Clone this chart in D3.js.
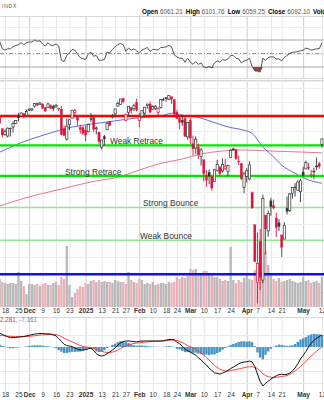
<!DOCTYPE html>
<html><head><meta charset="utf-8">
<script src="https://cdn.jsdelivr.net/npm/d3@7"></script>
<style>
html,body{margin:0;padding:0;background:#fff;}
svg{display:block;font-family:"Liberation Sans",Arial,sans-serif;}
</style></head><body>
<svg id="chart" width="324" height="400"></svg>
<script>
// Trading days shown on the chart
const dates = [
 "2024-11-14","2024-11-15","2024-11-18","2024-11-19","2024-11-20","2024-11-21","2024-11-22","2024-11-25","2024-11-26","2024-11-27","2024-11-29",
 "2024-12-02","2024-12-03","2024-12-04","2024-12-05","2024-12-06","2024-12-09","2024-12-10","2024-12-11","2024-12-12","2024-12-13","2024-12-16","2024-12-17","2024-12-18","2024-12-19","2024-12-20","2024-12-23","2024-12-24","2024-12-26","2024-12-27","2024-12-30","2024-12-31",
 "2025-01-02","2025-01-03","2025-01-06","2025-01-07","2025-01-08","2025-01-10","2025-01-13","2025-01-14","2025-01-15","2025-01-16","2025-01-17","2025-01-21","2025-01-22","2025-01-23","2025-01-24","2025-01-27","2025-01-28","2025-01-29","2025-01-30","2025-01-31",
 "2025-02-03","2025-02-04","2025-02-05","2025-02-06","2025-02-07","2025-02-10","2025-02-11","2025-02-12","2025-02-13","2025-02-14","2025-02-18","2025-02-19","2025-02-20","2025-02-21","2025-02-24","2025-02-25","2025-02-26","2025-02-27","2025-02-28",
 "2025-03-03","2025-03-04","2025-03-05","2025-03-06","2025-03-07","2025-03-10","2025-03-11","2025-03-12","2025-03-13","2025-03-14","2025-03-17","2025-03-18","2025-03-19","2025-03-20","2025-03-21","2025-03-24","2025-03-25","2025-03-26","2025-03-27","2025-03-28","2025-03-31",
 "2025-04-01","2025-04-02","2025-04-03","2025-04-04","2025-04-07","2025-04-08","2025-04-09","2025-04-10","2025-04-11","2025-04-14","2025-04-15","2025-04-16","2025-04-17","2025-04-21","2025-04-22","2025-04-23","2025-04-24","2025-04-25","2025-04-28","2025-04-29","2025-04-30",
 "2025-05-01","2025-05-02","2025-05-05","2025-05-06","2025-05-07","2025-05-08","2025-05-09","2025-05-12"
];

const open = [5989,5912,5874,5863,5917,5924,5948,5993,6000,6015,6004,
 6040,6042,6069,6089,6081,6083,6057,6060,6074,6068,6063,6053,6047,5912,5842,5940,5985,6024,6006,5920,5920,
 5903,5892,5982,5993,5911,5890,5788,5859,5905,5962,5995,6015,6069,6079,6121,5969,6026,6057,6051,6096,
 5970,5998,6020,6072,6083,6047,6050,6025,6060,6115,6121,6117,6135,6115,6027,5982,5971,5981,5857,
 5969,5811,5782,5789,5726,5705,5604,5624,5594,5563,5635,5655,5632,5646,5630,5719,5775,5772,5696,5679,5527,
 5597,5580,5492,5293,4953,5193,4967,5353,5256,5441,5412,5335,5305,5232,5207,5395,5381,5489,5529,5508,5499,
 5625,5645,5655,5605,5626,5663,5679,5807];
const high = [5993,5915,5909,5920,5920,5963,5973,6020,6025,6021,6044,
 6053,6052,6086,6092,6099,6089,6065,6092,6080,6078,6085,6057,6070,5935,5982,5979,6041,6049,6006,5941,5930,
 5935,5949,6021,6000,5928,5890,5838,5871,5960,5965,6014,6051,6100,6119,6128,6017,6070,6062,6086,6121,
 6022,6042,6062,6084,6101,6074,6076,6063,6116,6127,6129,6147,6134,6115,6043,5993,6009,5993,5959,
 5986,5866,5861,5813,5783,5705,5636,5642,5598,5645,5704,5665,5715,5711,5672,5775,5786,5776,5732,5685,5627,
 5650,5695,5500,5293,5246,5267,5481,5353,5381,5460,5450,5368,5328,5232,5309,5469,5489,5528,5553,5572,5581,
 5659,5700,5683,5640,5654,5720,5691,5845];
const low = [5942,5854,5866,5853,5860,5886,5944,5963,5992,5984,6004,
 6035,6033,6058,6071,6080,6048,6029,6060,6050,6034,6059,6035,5867,5866,5833,5903,5983,6007,5932,5879,5870,
 5829,5888,5960,5891,5874,5809,5773,5802,5905,5930,5983,5990,6065,6076,6088,5962,5994,6015,6035,6031,
 5923,5990,6007,6050,6019,6045,6043,6003,6052,6107,6100,6111,6084,6009,5977,5908,5933,5858,5837,
 5810,5732,5742,5711,5667,5565,5529,5547,5505,5563,5628,5603,5622,5640,5599,5719,5764,5703,5670,5572,5489,
 5558,5572,5390,5069,4835,4910,4949,5115,5221,5349,5387,5220,5255,5101,5207,5356,5371,5455,5468,5506,5433,
 5597,5644,5639,5587,5578,5637,5647,5786];
const close = [5949,5870,5893,5917,5917,5949,5969,5987,6021,5998,6032,
 6047,6050,6086,6075,6090,6053,6034,6084,6051,6051,6074,6050,5872,5867,5930,5974,6040,6037,5971,5907,5882,
 5869,5942,5975,5909,5918,5827,5836,5843,5950,5937,5997,6049,6086,6119,6101,6012,6068,6039,6071,6040,
 5994,6037,6061,6083,6026,6066,6068,6051,6115,6115,6129,6144,6117,6013,5983,5955,5956,5861,5955,
 5850,5778,5842,5739,5770,5615,5572,5599,5522,5639,5675,5615,5675,5663,5667,5768,5777,5712,5693,5581,5612,
 5633,5671,5397,5074,5062,4982,5457,5268,5363,5406,5397,5276,5283,5158,5288,5376,5485,5525,5529,5561,5569,
 5604,5687,5650,5607,5631,5664,5660,5844];

// Daily volume, millions of shares
const volume = [2240,2000,1920,1840,1920,1920,1840,2800,2080,1680,1040,
 1840,1840,1760,1840,1680,1840,1920,1760,1760,1920,2000,1760,2400,2240,4880,1760,800,1120,1440,1680,1600,
 1920,1840,2080,2160,2000,2160,2000,2080,2000,2000,1920,2160,2080,2000,2000,1840,2800,2160,2000,1920,
 2240,2160,1840,1920,1840,2000,1760,1840,1920,1920,1840,2000,1920,2000,2400,2240,2400,2320,2480,
 3040,2960,3040,2640,2720,2880,2880,2720,2560,2400,2400,2240,2080,2160,2080,4800,2160,1920,2160,2000,2320,
 2560,2240,2160,2960,3520,4000,3520,4400,3360,2640,2240,2080,2320,2000,2080,2160,2240,2080,2000,1920,2000,
 2400,2080,2160,1920,2000,2080,1920,2400];

// 14-day RSI
const rsi = [68,57,55,57,57,60,62,63,66,63,66,
 67,67,70,68,69,64,61,66,62,62,64,61,40,38,47,51,56,55,49,44,42,
 41,49,52,46,47,40,40,41,52,51,56,60,63,65,63,53,58,55,57,54,
 51,55,57,59,53,56,56,55,59,59,60,62,60,48,45,43,43,37,43,
 37,34,38,34,36,30,29,31,28.5,36,39,37,41,40,42,47,47,43,42,36,39,
 40,43,31,24,24,22.5,43,40,44,45,45,42,42,39,44,47,50,52,52,53,54,
 55,58,57,55,56,57,57,66];

// MACD(12,26,9): MACD line, signal line, histogram
const macd = [46,42,38,34,31,31,32,33,34,35,37,
 39,41,43,44,45,45,44,44,43,40,37,28,19,9,5,3,1,-3,-7,-10,-10,
 -9,-6,-4,-12,-22,-28,-30,-28,-22,-17,-10,-3,6,14,18,20,20,19,18,17,
 19,20,20,20,20,20,20,20,20,21,23,25,25,24,16,11,2,-7,-12,
 -17,-22,-27,-36,-43,-53,-60,-71,-78,-86,-88,-90,-87,-83,-78,-72,-67,-62,-56,-52,-50,
 -49,-47,-50,-65,-90,-115,-130,-121,-114,-107,-101,-96,-92,-91,-92,-91,-87,-80,-70,-56,-40,
 -28,-15,0,12,22,29,35,40];
const signal = [38,38,37,36,35.5,35,34.5,34.5,34.5,34.5,35,
 35.5,36.5,37.5,38.5,39.5,40.5,41,41.5,42,41.5,41,38.5,34.5,29.5,25,21,17,13,9,5,2,
 0,-1,-2,-4,-7,-11,-14,-17,-18,-18,-17,-14,-10,-5,0,4,7,10,12,13,
 14,15,16,17,18,18.5,19,19,19.5,20,21,22,23,23,22,19,15,10,5,
 1,-3,-8,-14,-20,-27,-35,-44,-53,-61,-68,-74,-78,-80,-80,-79,-77,-75,-73,-71,-69,
 -67,-66,-66,-68,-72,-80,-89,-95,-99,-101,-102,-101,-100,-98,-97,-95,-91,-86,-80,-73,-65,
 -57,-48,-39,-30,-22,-14,-7,0];
const hist = [8,4,1,-2,-4.5,-4,-2.5,-1.5,-0.5,0.5,2,
 3.5,4.5,5.5,5.5,5.5,4.5,3,2.5,1,-1.5,-4,-10.5,-15.5,-20.5,-20,-18,-16,-16,-16,-15,-12,
 -9,-5,-2,-8,-15,-17,-16,-11,-4,1,7,11,16,19,18,16,13,9,6,4,
 5,5,4,3,2,1.5,1,1,0.5,1,2,3,2,1,-6,-8,-13,-17,-17,
 -18,-19,-19,-22,-23,-26,-25,-27,-25,-25,-20,-16,-9,-3,2,7,10,13,17,19,19,
 18,19,16,3,-18,-35,-41,-26,-15,-6,1,5,8,7,5,4,4,6,10,17,25,
 29,33,39,42,44,43,42,40];

// Moving averages
const sma50Dates = ["2024-11-14","2024-11-26","2024-12-12","2024-12-20","2025-01-06","2025-01-16","2025-01-30","2025-02-13","2025-02-20","2025-02-26","2025-03-05","2025-03-13","2025-03-21","2025-03-31","2025-04-03","2025-04-09","2025-04-15","2025-04-21","2025-04-28","2025-05-05","2025-05-12"];
const sma50 = [5755,5818,5884,5916,5944,5961,5984,5999,6019,6005,5994,5961,5925,5902,5881,5790,5724,5670,5617,5574,5553];
const sma200Dates = ["2024-11-14","2024-11-27","2024-12-18","2025-01-06","2025-01-23","2025-02-03","2025-02-13","2025-02-26","2025-03-07","2025-03-19","2025-03-28","2025-04-09","2025-04-21","2025-04-30","2025-05-12"];
const sma200 = [5409,5457,5516,5561,5596,5638,5681,5710,5743,5763,5770,5765,5760,5756,5751];

// Horizontal levels
const levelValues = [6000,5800,5600,5400,5200,5000];
const levelNames = ["","Weak Retrace","Strong Retrace","Strong Bounce","Weak Bounce",""];

// Date axis
const tickDates = ["2024-11-18","2024-11-25","2024-12-02","2024-12-09","2024-12-16","2024-12-23","2025-01-02","2025-01-13","2025-01-21","2025-01-27","2025-02-03","2025-02-10","2025-02-18","2025-02-24","2025-03-03","2025-03-10","2025-03-17","2025-03-24","2025-04-01","2025-04-07","2025-04-14","2025-04-21","2025-05-01","2025-05-12"];
const tickLabels = ["18","25","Dec","9","16","23","2025","13","21","27","Feb","10","18","24","Mar","10","17","24","Apr","7","14","21","May","12"];

const svg = d3.select("#chart");
const W = 324;
const P = {rsiTop:16, rsiBot:78, mainTop:80, mainBot:307, macdTop:317, macdBot:392};

const x = d3.scalePoint().domain(dates).range([-0.37, 321.95]);
const yP = d3.scaleLog().domain([4815, 6254]).range([P.mainBot, P.mainTop]);
const yV = d3.scaleLinear().domain([0, 6000]).range([P.mainBot, P.mainBot - 75]);
const yR = d3.scaleLinear().domain([30, 70]).range([67, 40]);
const yM = d3.scaleLinear().domain([-100, 100]).range([377, 317]);
const isMonth = l => isNaN(+l) || l === "2025";

// clip paths
const defs = svg.append("defs");
[["cRsi",P.rsiTop,P.rsiBot],["cMain",P.mainTop,P.mainBot],["cMacd",P.macdTop,P.macdBot]].forEach(([id,t,b])=>{
  defs.append("clipPath").attr("id",id).append("rect").attr("x",0).attr("y",t).attr("width",W).attr("height",b-t);
});

// header
svg.append("text").attr("x",2).attr("y",7.5).attr("font-size",5.5).attr("fill","#666").attr("letter-spacing",0.4).text("INDX");
const hdr = svg.append("text").attr("x",142).attr("y",13.5).attr("font-size",6.3);
[["Open","6061.21"],["High","6101.76"],["Low","6059.25"],["Close","6092.10"],["Volume",""]].forEach(([k,v],i)=>{
  hdr.append("tspan").attr("font-weight","bold").attr("fill","#000").attr("dx", i? 3:0).text(k);
  if (v) hdr.append("tspan").attr("fill","#555").attr("dx",2).text(v);
});

// panel grids
function vgrid(top, bot){
  svg.append("g").selectAll("line").data(tickDates).join("line")
    .attr("x1",d=>x(d)+0.5).attr("x2",d=>x(d)+0.5).attr("y1",top).attr("y2",bot)
    .attr("stroke",(d,i)=>isMonth(tickLabels[i])?"#cfcfcf":"#e6e6e6").attr("stroke-width",1);
}
vgrid(P.rsiTop,P.rsiBot); vgrid(P.mainTop,P.mainBot); vgrid(P.macdTop,P.macdBot);

// RSI panel
const gR = svg.append("g");
gR.selectAll("line.h").data([90,50,10]).join("line").attr("x1",0).attr("x2",W)
  .attr("y1",d=>Math.round(yR(d))+0.5).attr("y2",d=>Math.round(yR(d))+0.5).attr("stroke","#ececec");
[P.rsiTop, P.rsiBot].forEach(y=>gR.append("line").attr("x1",0).attr("x2",W).attr("y1",y+0.5).attr("y2",y+0.5).attr("stroke","#d8d8d8"));
[70,30].forEach(v=>gR.append("line").attr("x1",0).attr("x2",W).attr("y1",yR(v)).attr("y2",yR(v)).attr("stroke","#a8a8a8").attr("stroke-width",1.2));
gR.append("line").attr("x1",0).attr("x2",W).attr("y1",yR(50)).attr("y2",yR(50)).attr("stroke","#999").attr("stroke-dasharray","4,2,1,2");
gR.append("path").datum(dates).attr("clip-path","url(#cRsi)")
  .attr("d", d3.area().x(d=>x(d)).y0(yR(30)).y1((d,i)=>yR(Math.min(rsi[i],30))))
  .attr("fill","#9b4545");
gR.append("path").datum(dates).attr("clip-path","url(#cRsi)")
  .attr("d", d3.line().x(d=>x(d)).y((d,i)=>yR(rsi[i])))
  .attr("fill","none").attr("stroke","#555").attr("stroke-width",1);

// main panel
const gM = svg.append("g").attr("clip-path","url(#cMain)");
d3.range(4900,6300,100).forEach(v=>gM.append("line").attr("x1",0).attr("x2",W)
  .attr("y1",Math.round(yP(v))+0.5).attr("y2",Math.round(yP(v))+0.5).attr("stroke","#eeeeee"));
[P.mainTop].forEach(y=>svg.append("line").attr("x1",0).attr("x2",W).attr("y1",y+0.5).attr("y2",y+0.5).attr("stroke","#d8d8d8"));

// volume
gM.selectAll("rect.vol").data(dates).join("rect").attr("class","vol")
  .attr("x",d=>x(d)-1.15).attr("width",2.3)
  .attr("y",(d,i)=>yV(volume[i])).attr("height",(d,i)=>yV(0)-yV(volume[i]))
  .attr("fill",(d,i)=> (i>0 && close[i]<close[i-1]) ? "#eab0b8" : "#b8b8b8");

// moving averages
const t = d => x(d);
gM.append("path").datum(sma200Dates).attr("fill","none").attr("stroke","#e67888").attr("stroke-width",1)
  .attr("d", d3.line().curve(d3.curveMonotoneX).x(t).y((d,i)=>yP(sma200[i])));
gM.append("path").datum(sma50Dates).attr("fill","none").attr("stroke","#6a6acc").attr("stroke-width",1)
  .attr("d", d3.line().curve(d3.curveMonotoneX).x(t).y((d,i)=>yP(sma50[i])));

// levels
const lvlStyle = [
  {c:"#ff0000", w:2.6},{c:"#00e600", w:2.4},{c:"#00e600", w:2.4},
  {c:"#8ee88e", w:1.6},{c:"#8ee88e", w:1.6},{c:"#1010ee", w:2.4}
];
levelValues.forEach((v,i)=>{
  gM.append("line").attr("x1",0).attr("x2",W).attr("y1",yP(v)).attr("y2",yP(v))
    .attr("stroke",lvlStyle[i].c).attr("stroke-width",lvlStyle[i].w);
});
const labelX = [0,110,65,143,140,0];
levelValues.forEach((v,i)=>{
  if(!levelNames[i]) return;
  gM.append("text").attr("x",labelX[i]).attr("y",yP(v)-1.2).attr("font-size",8.4).attr("fill","#333").text(levelNames[i]);
});

// candles
const gC = gM.append("g");
dates.forEach((d,i)=>{
  const up = i===0 ? close[i]>=open[i] : close[i]>=close[i-1];
  const col = up ? "#333" : "#dc143c";
  const hollow = close[i] > open[i];
  const cx = x(d);
  gC.append("line").attr("x1",cx).attr("x2",cx).attr("y1",yP(high[i])).attr("y2",yP(low[i]))
    .attr("stroke",col).attr("stroke-width",0.9);
  const top = yP(Math.max(open[i],close[i])), bot = yP(Math.min(open[i],close[i]));
  gC.append("rect").attr("x",cx-1.1).attr("width",2.2).attr("y",top).attr("height",Math.max(bot-top,0.8))
    .attr("fill",hollow?"#fff":col).attr("stroke",col).attr("stroke-width",hollow?0.7:0.3);
});

// date axes
function dateAxis(y){
  const g = svg.append("g").attr("transform",`translate(0,${y})`)
    .call(d3.axisBottom(x).tickValues(tickDates).tickSize(0).tickPadding(0).tickFormat((d,i)=>tickLabels[i]));
  g.select(".domain").remove();
  g.selectAll("text").attr("font-size",6.5).attr("fill","#333").attr("font-family","'Liberation Sans',Arial,sans-serif")
    .attr("font-weight",(d,i)=>isMonth(tickLabels[i])?"bold":"normal");
}
dateAxis(308.5);
dateAxis(392.5);

// MACD panel
const gD = svg.append("g").attr("clip-path","url(#cMacd)");
[P.macdTop].forEach(y=>svg.append("line").attr("x1",0).attr("x2",W).attr("y1",y+0.5).attr("y2",y+0.5).attr("stroke","#d8d8d8"));
[40,-40,-80,-120].forEach(v=>gD.append("line").attr("x1",0).attr("x2",W)
  .attr("y1",Math.round(yM(v))+0.5).attr("y2",Math.round(yM(v))+0.5).attr("stroke","#e8e8e8"));
gD.selectAll("rect.h").data(dates).join("rect")
  .attr("x",d=>x(d)-1.2).attr("width",2.4)
  .attr("y",(d,i)=>Math.min(yM(hist[i]),yM(0))).attr("height",(d,i)=>Math.abs(yM(hist[i])-yM(0)))
  .attr("fill","#4695c8");
gD.append("path").datum(dates).attr("fill","none").attr("stroke","#ff4040").attr("stroke-width",1)
  .attr("d", d3.line().x(d=>x(d)).y((d,i)=>yM(signal[i])));
gD.append("path").datum(dates).attr("fill","none").attr("stroke","#111").attr("stroke-width",1)
  .attr("d", d3.line().x(d=>x(d)).y((d,i)=>yM(macd[i])));
const ml = svg.append("text").attr("x",0).attr("y",322).attr("font-size",6.3);
ml.append("tspan").attr("fill","#f03030").text("2.281, ");
ml.append("tspan").attr("fill","#3a9ad0").text("-7.161");
</script>
</body></html>
